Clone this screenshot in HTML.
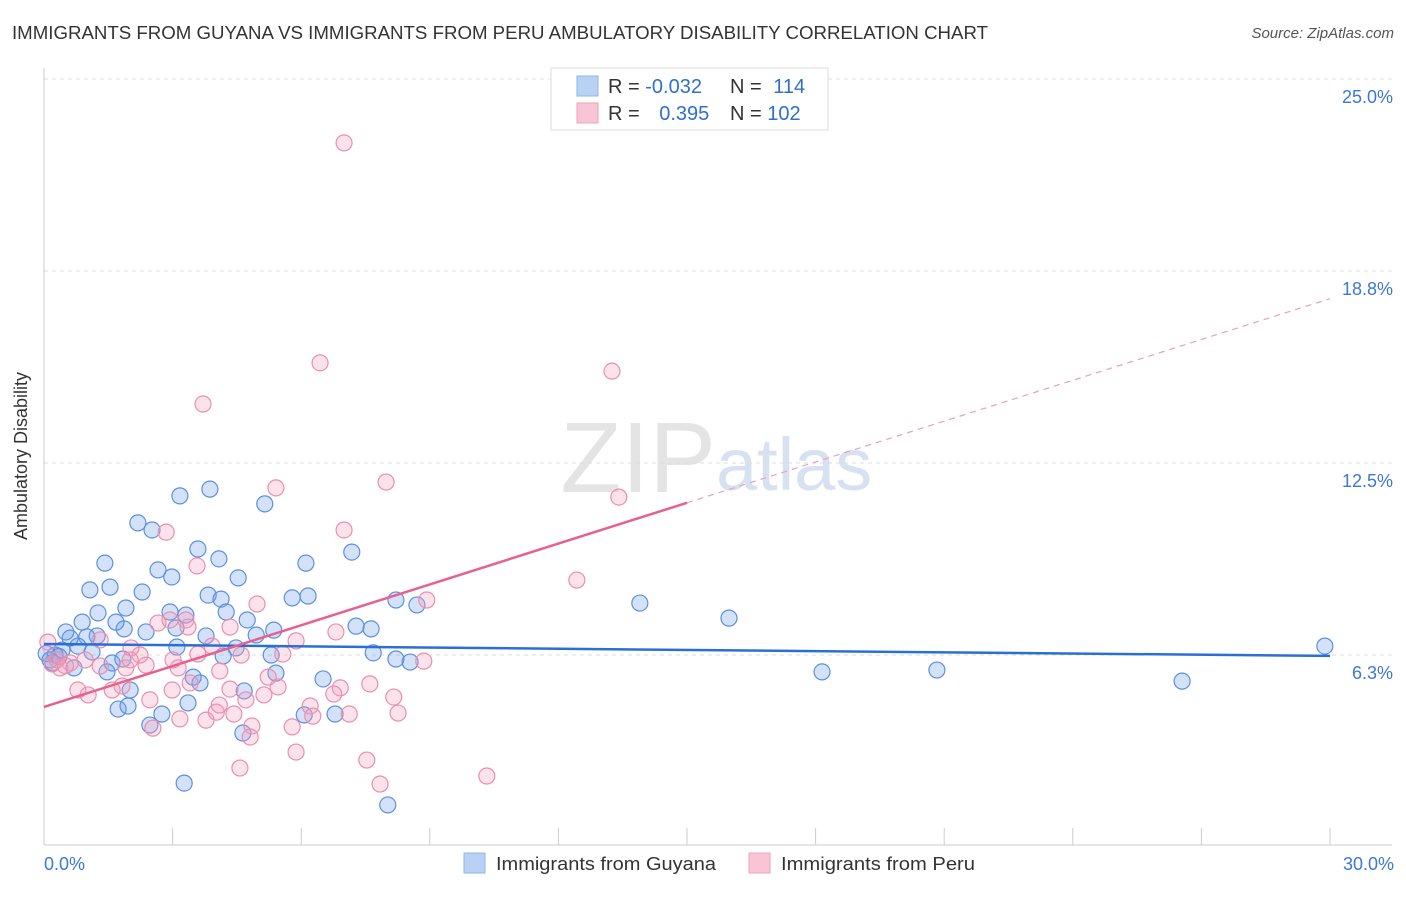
<!DOCTYPE html>
<html><head><meta charset="utf-8"><style>
body{margin:0;background:#fff;font-family:"Liberation Sans",sans-serif;}
svg text{font-family:"Liberation Sans",sans-serif;}
</style></head><body>
<svg id="c" width="1406" height="892" xmlns="http://www.w3.org/2000/svg">
<text x="12" y="39" font-size="18" fill="#333" textLength="976" lengthAdjust="spacingAndGlyphs">IMMIGRANTS FROM GUYANA VS IMMIGRANTS FROM PERU AMBULATORY DISABILITY CORRELATION CHART</text>
<text x="1394" y="38" font-size="15" fill="#555" font-style="italic" text-anchor="end">Source: ZipAtlas.com</text>
<text x="716" y="492" font-size="100" fill="#e4e4e4" text-anchor="end" font-family="Liberation Serif">ZIP</text>
<text x="716" y="490" font-size="74" fill="#d6e2f2">atlas</text>
<g id="grid"></g>
<line x1="44" y1="68" x2="44" y2="845" stroke="#ccc"/>
<line x1="44" y1="845" x2="1392" y2="845" stroke="#ccc"/>
<g id="xt"></g>
<text x="27" y="456" font-size="18" fill="#333" text-anchor="middle" transform="rotate(-90 27 456)">Ambulatory Disability</text>
<g id="pts"></g>
<g id="lines"></g>
<g>
<rect x="551" y="68" width="277" height="62" fill="#fff" stroke="#ddd"/>
<rect x="577" y="76" width="21" height="20" fill="#b9d2f4" stroke="#8fb4ea"/>
<rect x="577" y="103" width="21" height="20" fill="#f9c5d4" stroke="#eea2ba"/>
<text x="608" y="93" font-size="20" fill="#333">R = <tspan fill="#2f6fd0">-0.032</tspan></text>
<text x="730" y="93" font-size="20" fill="#333">N = <tspan fill="#2f6fd0" dx="6">114</tspan></text>
<text x="608" y="120" font-size="20" fill="#333">R = <tspan fill="#2f6fd0" dx="14">0.395</tspan></text>
<text x="730" y="120" font-size="20" fill="#333">N = <tspan fill="#2f6fd0">102</tspan></text>
</g>
<text x="44" y="870" font-size="18" fill="#3b78d8">0.0%</text>
<text x="1394" y="870" font-size="18" fill="#3b78d8" text-anchor="end">30.0%</text>
<rect x="464" y="853" width="21" height="20" fill="#b9d2f4" stroke="#8fb4ea"/>
<text x="496" y="870" font-size="18" fill="#333" textLength="220" lengthAdjust="spacingAndGlyphs">Immigrants from Guyana</text>
<rect x="749" y="853" width="21" height="20" fill="#f9c5d4" stroke="#eea2ba"/>
<text x="781" y="870" font-size="18" fill="#333" textLength="194" lengthAdjust="spacingAndGlyphs">Immigrants from Peru</text>
</svg>
<script>
const yTicks=[6.25,12.5,18.75,25];
const yTickLabels=["6.3%","12.5%","18.8%","25.0%"];
const xTicks=[0,3,6,9,12,15,18,21,24,27,30];
const guyanaX=[29.88,26.55,20.83,18.15,15.98,13.90,8.70,8.21,8.54,8.21,8.02,7.18,7.28,7.63,7.68,6.79,6.51,6.11,6.16,5.79,6.07,5.36,5.30,5.41,5.15,4.95,4.74,4.53,4.48,4.67,4.64,4.08,3.87,3.59,3.83,4.13,4.25,4.18,3.78,3.64,3.48,3.36,3.27,3.17,3.10,3.08,2.94,2.66,2.98,2.38,2.29,2.52,2.19,1.91,1.87,1.68,1.54,1.42,1.26,1.07,1.24,0.89,1.73,1.96,2.01,1.59,1.47,1.84,1.00,0.79,0.61,0.42,0.26,0.14,0.70,1.12,0.51,2.75,2.47,3.31,0.05,0.2,0.35];
const guyanaY=[6.54,5.40,5.76,5.70,7.45,7.94,7.88,8.04,6.02,6.12,1.37,9.60,7.19,7.10,6.32,4.33,5.47,9.24,8.17,8.11,4.30,7.06,6.25,5.66,11.17,6.90,7.39,8.76,6.48,5.08,3.71,9.38,11.65,9.70,8.20,8.07,7.65,6.22,6.87,5.34,5.53,4.69,2.08,11.43,6.51,7.13,7.65,9.02,8.79,7.00,8.30,10.32,10.55,7.78,7.10,7.32,8.46,9.24,7.62,8.37,6.87,7.32,4.49,4.59,5.11,5.99,5.70,6.12,6.84,6.54,6.80,6.41,6.25,6.09,5.83,6.35,7.00,4.33,3.97,7.55,6.3,6.0,6.2];
const peruX=[7.00,6.44,13.25,3.71,5.41,7.98,13.41,7.00,2.85,12.43,8.93,4.97,3.57,3.31,2.66,6.81,5.88,5.57,8.86,4.34,3.92,4.10,4.34,4.71,5.23,5.46,5.13,6.21,6.91,6.76,7.60,8.16,8.26,7.12,6.27,5.79,5.88,7.53,7.84,10.33,4.57,4.85,4.81,4.43,4.02,4.09,3.78,3.59,3.41,3.13,2.99,3.17,2.54,2.47,2.38,2.24,2.03,1.91,1.82,1.59,1.31,1.03,0.79,1.31,0.96,0.61,0.37,0.19,0.09,2.01,3.01,4.60,3.36,2.94,0.3,0.5];
const peruY=[22.92,15.76,15.49,14.42,11.69,11.88,11.39,10.32,10.25,8.69,8.04,7.91,9.15,7.39,7.29,7.00,6.71,6.28,6.05,7.16,6.54,5.73,5.14,4.79,5.53,5.21,4.95,4.59,5.18,4.98,5.31,4.88,4.36,4.33,4.26,3.91,3.09,2.83,2.05,2.31,2.57,3.94,3.58,4.33,4.39,4.62,4.13,6.28,5.34,5.83,5.11,4.17,3.87,4.79,5.92,6.25,6.48,5.83,5.24,5.11,5.89,4.95,5.11,6.74,6.09,5.99,5.83,5.96,6.67,6.09,6.09,6.25,7.16,7.39,6.1,5.9];
const guyanaTrend=[6.61,6.22];
const peruTrend=[4.56,17.85];
const NS="http://www.w3.org/2000/svg";
const X=v=>44+v/30*1286, Y=v=>847-v/25*768;
function mk(t,a,p){const e=document.createElementNS(NS,t);for(const k in a)e.setAttribute(k,a[k]);p.appendChild(e);return e;}
const grid=document.getElementById('grid');
yTicks.forEach((t,i)=>{
 const l=mk('line',{x1:44,x2:1392,y1:Y(t),y2:Y(t),stroke:'#ddd','stroke-dasharray':'4 4'},grid);
 
 
 const tx=mk('text',{x:1393,y:Y(t)+24,'font-size':18,fill:'#3b78d8','text-anchor':'end'},grid);
 tx.textContent=yTickLabels[i];
 
 
});
const xt=document.getElementById('xt');
xTicks.forEach(t=>{
 const l=mk('line',{x1:X(t),x2:X(t),y1:828,y2:845,stroke:'#ccc'},xt);
 
 
});
const pts=document.getElementById('pts');
guyanaX.forEach((x,i)=>{
 const c=mk('circle',{cx:X(x),cy:Y(guyanaY[i]),r:8,fill:'rgba(110,160,235,0.3)',stroke:'#5b90e0','stroke-width':1.2},pts);
 
 
});
peruX.forEach((x,i)=>{
 const c=mk('circle',{cx:X(x),cy:Y(peruY[i]),r:8,fill:'rgba(245,160,190,0.3)',stroke:'#ea8fae','stroke-width':1.2},pts);
 
 
});
const lines=document.getElementById('lines');
const bl=mk('line',{x1:X(0),y1:Y(guyanaTrend[0]),x2:X(30),y2:Y(guyanaTrend[1]),stroke:'#2a6fd6','stroke-width':2.5},lines);


const pm=peruTrend[0]+(peruTrend[1]-peruTrend[0])/2;
const ps=mk('line',{x1:X(0),y1:Y(peruTrend[0]),x2:X(15),y2:Y(pm),stroke:'#e8608e','stroke-width':2.5},lines);


const pd=mk('line',{x1:X(15),y1:Y(pm),x2:X(30),y2:Y(peruTrend[1]),stroke:'#eaa0ba','stroke-width':1.2,'stroke-dasharray':'6 5'},lines);


</script>
</body></html>
